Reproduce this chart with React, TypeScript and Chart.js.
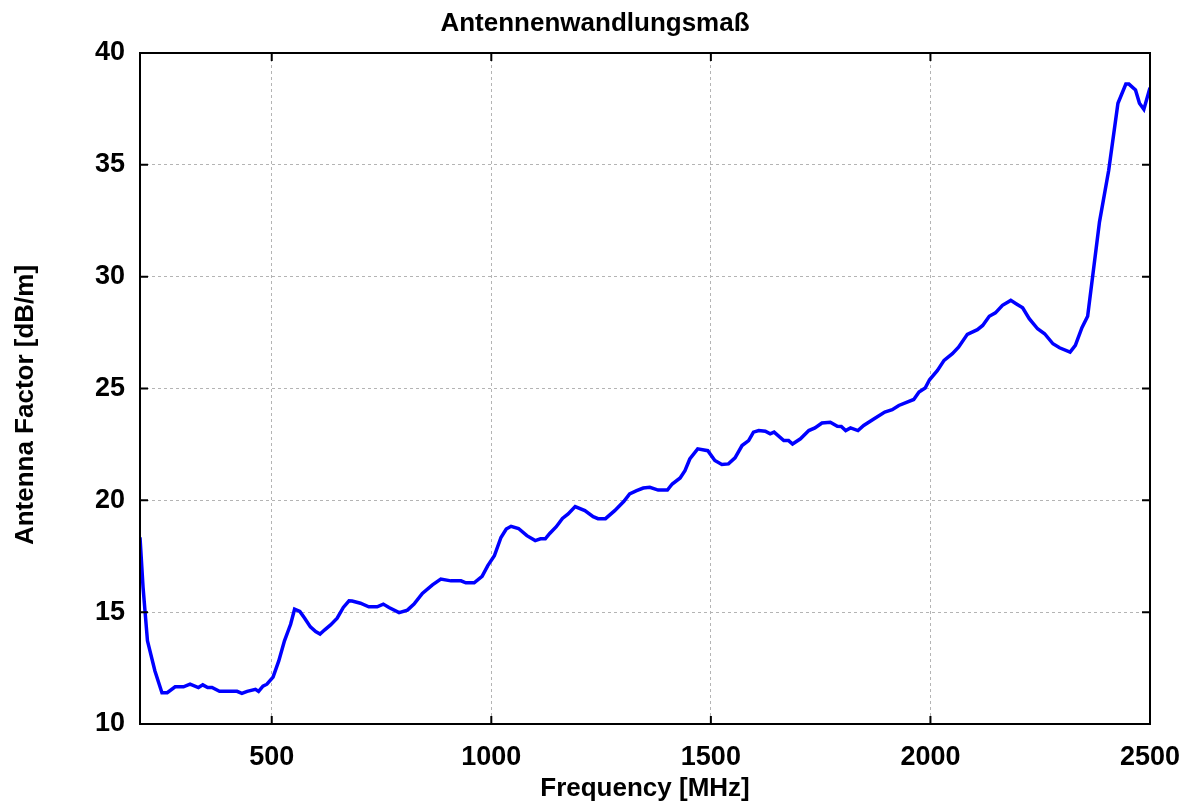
import React, { useEffect, useRef } from "react";
import { Chart, registerables } from "chart.js";

Chart.register(...registerables);

const TITLE = "Antennenwandlungsmaß";
const X_LABEL = "Frequency [MHz]";
const Y_LABEL = "Antenna Factor [dB/m]";

const xTicks = [500, 1000, 1500, 2000, 2500];
const yTicks = [10, 15, 20, 25, 30, 35, 40];

const frequencies = [
  200, 207, 217, 234, 250, 262, 280, 299, 314, 333, 343, 354, 364, 381, 421, 432, 444, 463, 470, 480,
  489, 503, 516, 529, 543, 552, 564, 575, 588, 600, 610, 620, 634, 649, 663, 676, 683, 702, 721, 740,
  754, 767, 790, 809, 824, 843, 866, 885, 908, 931, 942, 961, 979, 992, 1007, 1022, 1034, 1045, 1062, 1081,
  1100, 1112, 1123, 1133, 1148, 1162, 1175, 1191, 1213, 1232, 1243, 1260, 1281, 1302, 1315, 1331, 1346, 1361, 1380, 1401,
  1412, 1430, 1441, 1452, 1470, 1493, 1509, 1525, 1540, 1555, 1571, 1586, 1597, 1609, 1624, 1635, 1644, 1666, 1677, 1686,
  1704, 1723, 1737, 1753, 1772, 1788, 1797, 1807, 1818, 1835, 1848, 1871, 1896, 1913, 1928, 1962, 1974, 1988, 1998, 2016,
  2031, 2050, 2064, 2084, 2107, 2119, 2134, 2148, 2164, 2183, 2195, 2210, 2225, 2244, 2260, 2279, 2294, 2318, 2330, 2345,
  2358, 2385, 2406, 2427, 2445, 2452, 2467, 2476, 2486, 2500,
];

const antennaFactor = [
  18.35, 16.1, 13.72, 12.37, 11.4, 11.4, 11.66, 11.66, 11.78, 11.63, 11.75, 11.63, 11.63, 11.46, 11.46, 11.37, 11.46, 11.55, 11.46, 11.69,
  11.78, 12.1, 12.82, 13.72, 14.46, 15.13, 15.03, 14.73, 14.34, 14.13, 14.02, 14.2, 14.43, 14.73, 15.21, 15.51, 15.5, 15.4, 15.24, 15.24,
  15.36, 15.21, 14.98, 15.09, 15.36, 15.84, 16.22, 16.48, 16.4, 16.4, 16.31, 16.31, 16.6, 17.08, 17.52, 18.34, 18.72, 18.84, 18.74, 18.42,
  18.2, 18.28, 18.28, 18.52, 18.82, 19.19, 19.39, 19.72, 19.54, 19.27, 19.18, 19.18, 19.54, 19.96, 20.29, 20.43, 20.55, 20.58, 20.46, 20.46,
  20.73, 21.0, 21.33, 21.85, 22.3, 22.22, 21.78, 21.6, 21.63, 21.9, 22.45, 22.67, 23.05, 23.12, 23.09, 22.97, 23.05, 22.67, 22.67, 22.52,
  22.75, 23.12, 23.24, 23.46, 23.49, 23.31, 23.3, 23.12, 23.24, 23.12, 23.35, 23.64, 23.95, 24.05, 24.24, 24.51, 24.84, 25.02, 25.39, 25.81,
  26.26, 26.56, 26.85, 27.42, 27.63, 27.82, 28.23, 28.38, 28.72, 28.94, 28.79, 28.61, 28.12, 27.67, 27.45, 27.0, 26.82, 26.63, 26.93, 27.72,
  28.23, 32.45, 34.76, 37.75, 38.61, 38.61, 38.35, 37.75, 37.48, 38.45,
];

const FONT = "'Liberation Sans', Arial, Helvetica, sans-serif";

const framePlugin = {
  id: "frameAndLabels",
  afterDatasetsDraw(chart: any) {
    const { ctx, chartArea: a, scales } = chart;
    ctx.save();
    ctx.strokeStyle = "#000";
    ctx.lineWidth = 2;
    ctx.setLineDash([]);
    ctx.strokeRect(a.left, a.top, a.right - a.left, a.bottom - a.top);
    ctx.beginPath();
    const tl = 8;
    for (const v of xTicks) {
      const px = scales.x.getPixelForValue(v);
      ctx.moveTo(px, a.bottom);
      ctx.lineTo(px, a.bottom - tl);
      ctx.moveTo(px, a.top);
      ctx.lineTo(px, a.top + tl);
    }
    for (const v of yTicks) {
      const py = scales.y.getPixelForValue(v);
      ctx.moveTo(a.left, py);
      ctx.lineTo(a.left + tl, py);
      ctx.moveTo(a.right, py);
      ctx.lineTo(a.right - tl, py);
    }
    ctx.stroke();
    ctx.fillStyle = "#000";
    ctx.font = `bold 26px ${FONT}`;
    ctx.textAlign = "center";
    ctx.textBaseline = "middle";
    ctx.fillText(TITLE, 595, 24);
    ctx.translate(26, 405);
    ctx.rotate(-Math.PI / 2);
    ctx.fillText(Y_LABEL, 0, 0);
    ctx.restore();
  },
};

export default function App() {
  const canvasRef = useRef<HTMLCanvasElement | null>(null);

  useEffect(() => {
    if (!canvasRef.current) return;
    Chart.defaults.font.family = FONT;
    Chart.defaults.color = "#000";
    const chart = new Chart(canvasRef.current, {
      type: "line",
      data: {
        datasets: [
          {
            label: "Antenna Factor",
            data: frequencies.map((f, i) => ({ x: f, y: antennaFactor[i] })),
            borderColor: "#0000ff",
            backgroundColor: "#0000ff",
            borderWidth: 3.5,
            pointRadius: 0,
            tension: 0,
            fill: false,
          },
        ],
      },
      options: {
        animation: false,
        responsive: false,
        devicePixelRatio: 1,
        layout: { padding: { left: 0, right: 39, top: 53, bottom: 0 } },
        plugins: {
          legend: { display: false },
          title: { display: false },
          tooltip: { enabled: false },
        },
        scales: {
          x: {
            type: "linear",
            min: 200,
            max: 2500,
            afterBuildTicks: (scale: any) => {
              scale.ticks = xTicks.map((v) => ({ value: v }));
            },
            afterFit: (scale: any) => {
              scale.height = 81;
              scale.paddingLeft = 0;
              scale.paddingRight = 0;
            },
            ticks: {
              padding: 17,
              font: { size: 27, weight: "bold" },
              color: "#000",
              callback: (v: any) => String(v),
            },
            grid: {
              color: "#b4b4b4",
              lineWidth: 1,
              drawTicks: false,
            },
            border: { display: false, dash: [3, 3] },
            title: {
              display: true,
              text: X_LABEL,
              font: { size: 26, weight: "bold" },
              color: "#000",
              padding: { top: 0, bottom: 1 },
            },
          },
          y: {
            type: "linear",
            min: 10,
            max: 40,
            afterBuildTicks: (scale: any) => {
              scale.ticks = yTicks.map((v) => ({ value: v }));
            },
            afterFit: (scale: any) => {
              scale.width = 140;
              scale.paddingTop = 0;
              scale.paddingBottom = 0;
            },
            ticks: {
              padding: 15,
              font: { size: 27, weight: "bold" },
              color: "#000",
              callback: (v: any) => String(v),
            },
            grid: {
              color: "#b4b4b4",
              lineWidth: 1,
              drawTicks: false,
            },
            border: { display: false, dash: [3, 3] },
          },
        },
      },
      plugins: [framePlugin],
    });
    return () => chart.destroy();
  }, []);

  return (
    <div style={{ position: "absolute", left: 0, top: 0, width: 1189, height: 805, background: "#fff" }}>
      <canvas ref={canvasRef} width={1189} height={805} style={{ width: 1189, height: 805 }} />
    </div>
  );
}
